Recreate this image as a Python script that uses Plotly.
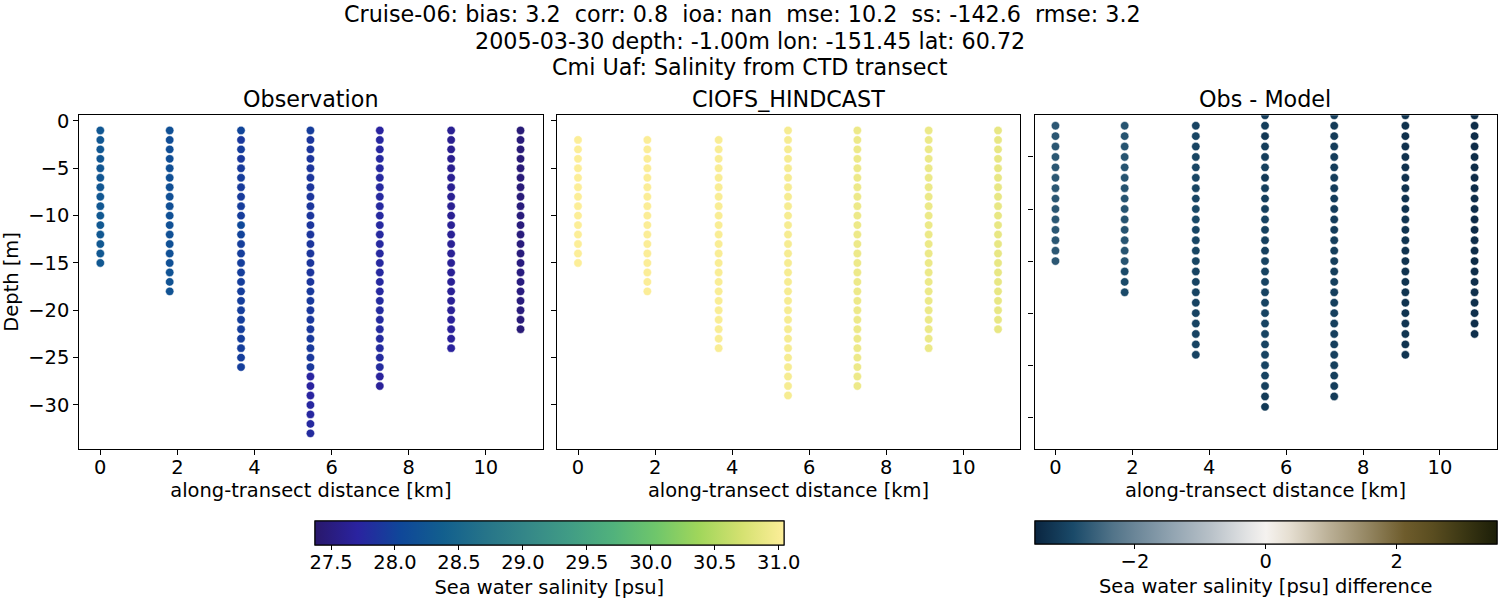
import plotly.graph_objects as go

# ---- data ----
distance_km = [0.0, 1.80, 3.65, 5.45, 7.25, 9.10, 10.90]
depth_levels = [-1, -2, -3, -4, -5, -6, -7, -8, -9, -10, -11, -12, -13, -14, -15, -16, -17,
                -18, -19, -20, -21, -22, -23, -24, -25, -26, -27, -28, -29, -30, -31, -32, -33]

obs_1 = [28.26, 28.26, 28.26, 28.25, 28.25, 28.25, 28.26, 28.26, 28.26, 28.27, 28.27, 28.27, 28.28, 28.28, 28.28]
obs_2 = [28.16, 28.13, 28.14, 28.14, 28.15, 28.15, 28.15, 28.15, 28.15, 28.16, 28.16, 28.16, 28.16, 28.17, 28.17, 28.20, 28.21, 28.21]
obs_3 = [28.02, 27.90, 27.95, 27.90, 27.93, 27.95, 27.93, 27.93, 27.95, 27.95, 28.05, 28.00, 27.96, 27.96, 27.96, 27.96, 27.96, 27.96,
         27.96, 27.96, 27.96, 27.96, 27.96, 27.96, 27.96, 27.96]
obs_4 = [27.95, 27.88, 27.88, 27.88, 27.88, 27.88, 27.88, 27.88, 27.88, 27.88, 27.88, 27.88, 27.88, 27.88, 27.88, 27.88, 27.88, 27.92,
         27.92, 27.90, 27.90, 27.90, 27.92, 27.92, 27.90, 27.90, 27.72, 27.70, 27.72, 27.74, 27.74, 27.76, 27.78]
obs_5 = [27.70, 27.74, 27.74, 27.76, 27.76, 27.76, 27.76, 27.76, 27.76, 27.76, 27.76, 27.76, 27.76, 27.76, 27.76, 27.76, 27.76, 27.76,
         27.78, 27.78, 27.78, 27.78, 27.78, 27.78, 27.78, 27.78, 27.68, 27.66]
obs_6 = [27.62, 27.60, 27.60, 27.60, 27.60, 27.62, 27.62, 27.62, 27.62, 27.62, 27.64, 27.64, 27.64, 27.64, 27.64, 27.64, 27.64, 27.64,
         27.64, 27.64, 27.66, 27.66, 27.66, 27.68]
obs_7 = [27.45, 27.47, 27.45, 27.45, 27.46, 27.46, 27.46, 27.46, 27.48, 27.48, 27.48, 27.48, 27.48, 27.48, 27.50, 27.50, 27.50, 27.50,
         27.48, 27.48, 27.46, 27.45]

model_1 = [31.03, 31.03, 31.03, 31.03, 31.03, 31.03, 31.03, 31.03, 31.03, 31.03, 31.03, 31.03, 31.03, 31.03]
model_2 = [31.02, 31.02, 31.02, 31.02, 31.02, 31.02, 31.02, 31.02, 31.02, 31.02, 31.02, 31.02, 31.02, 31.02, 31.02, 31.02, 31.02]
model_3 = [31.01, 31.01, 31.01, 31.01, 31.01, 31.01, 31.01, 31.01, 31.01, 31.01, 31.01, 31.01, 31.01, 31.01, 31.01, 31.01, 31.01, 31.01,
           31.01, 31.01, 31.01, 31.01, 31.01]
model_4 = [30.98, 30.98, 30.98, 30.98, 30.98, 30.98, 30.98, 30.98, 30.98, 30.98, 30.98, 30.98, 30.98, 30.98, 30.98, 30.98, 30.98, 30.98,
           30.98, 30.98, 30.98, 30.98, 30.98, 30.98, 30.98, 30.98, 30.98, 30.98, 30.98]
model_5 = [30.91, 30.91, 30.91, 30.91, 30.91, 30.91, 30.91, 30.91, 30.91, 30.91, 30.91, 30.91, 30.91, 30.91, 30.91, 30.91, 30.91, 30.91,
           30.91, 30.91, 30.91, 30.91, 30.91, 30.91, 30.91, 30.91, 30.91, 30.91]
model_6 = [30.90, 30.90, 30.90, 30.90, 30.90, 30.90, 30.90, 30.90, 30.90, 30.90, 30.90, 30.90, 30.90, 30.90, 30.90, 30.90, 30.90, 30.90,
           30.90, 30.90, 30.90, 30.90, 30.90, 30.90]
model_7 = [30.87, 30.87, 30.87, 30.87, 30.87, 30.87, 30.87, 30.87, 30.87, 30.87, 30.87, 30.87, 30.87, 30.87, 30.87, 30.87, 30.87, 30.87,
           30.87, 30.87, 30.87, 30.87]

diff_1 = [-2.75, -2.76, -2.77, -2.76, -2.76, -2.76, -2.76, -2.76, -2.75, -2.76, -2.76, -2.77, -2.75, -2.75]
diff_2 = [-2.80, -2.80, -2.81, -2.80, -2.81, -2.81, -2.81, -2.80, -2.80, -2.81, -2.81, -2.80, -2.80, -2.80, -2.95, -2.95, -2.95]
diff_3 = [-3.05, -3.02, -3.05, -3.04, -3.02, -3.02, -3.03, -3.02, -2.98, -2.98, -3.02, -3.02, -3.03, -3.03, -3.05, -3.05, -3.05, -3.05,
          -3.05, -3.05, -3.05, -3.05, -3.05]
diff_4 = [-3.15, -3.15, -3.25, -3.15, -3.15, -3.10, -3.22, -3.12, -3.12, -3.12, -3.05, -3.08, -3.10, -3.10, -3.06, -3.06, -3.05, -3.05,
          -3.05, -3.05, -3.05, -3.05, -3.05, -3.05, -3.05, -3.05, -3.10, -3.20, -3.22]
diff_5 = [-3.15, -3.18, -3.18, -3.16, -3.16, -3.16, -3.16, -3.16, -3.16, -3.16, -3.16, -3.16, -3.14, -3.14, -3.14, -3.14, -3.12, -3.12,
          -3.12, -3.12, -3.12, -3.12, -3.12, -3.10, -3.12, -3.12, -3.15, -3.18]
diff_6 = [-3.30, -3.34, -3.36, -3.35, -3.36, -3.35, -3.35, -3.33, -3.33, -3.33, -3.30, -3.30, -3.30, -3.31, -3.31, -3.31, -3.30, -3.30,
          -3.31, -3.30, -3.28, -3.28, -3.30, -3.28]
diff_7 = [-3.38, -3.40, -3.42, -3.43, -3.42, -3.42, -3.43, -3.42, -3.40, -3.40, -3.45, -3.43, -3.40, -3.42, -3.44, -3.38, -3.36, -3.36,
          -3.36, -3.36, -3.38, -3.36]

obs_columns = [obs_1, obs_2, obs_3, obs_4, obs_5, obs_6, obs_7]
model_columns = [model_1, model_2, model_3, model_4, model_5, model_6, model_7]
diff_columns = [diff_1, diff_2, diff_3, diff_4, diff_5, diff_6, diff_7]
model_first_level = [1, 1, 1, 0, 0, 0, 0]
diff_first_level = [1, 1, 1, 0, 0, 0, 0]
obs_first_level = [0, 0, 0, 0, 0, 0, 0]

title_lines = ["Cruise-06: bias: 3.2  corr: 0.8  ioa: nan  mse: 10.2  ss: -142.6  rmse: 3.2",
               "2005-03-30 depth: -1.00m lon: -151.45 lat: 60.72",
               "Cmi Uaf: Salinity from CTD transect"]
panel_titles = ["Observation", "CIOFS_HINDCAST", "Obs - Model"]
x_ticks = [0, 2, 4, 6, 8, 10]
y_ticks_left = [0, -5, -10, -15, -20, -25, -30]
y_ticks_right = [-5, -10, -15, -20, -25, -30]
haline_ticks = [27.5, 28.0, 28.5, 29.0, 29.5, 30.0, 30.5, 31.0]
haline_labels = ["27.5", "28.0", "28.5", "29.0", "29.5", "30.0", "30.5", "31.0"]
diff_ticks = [-2, 0, 2]
diff_scale = [[0.0, "#0a2540"], [0.083, "#1a4a69"], [0.169, "#527489"], [0.217, "#6b8698"], [0.30, "#93a5b2"],
              [0.38, "#b8c1c8"], [0.46, "#e2e3e4"], [0.50, "#f5f2ef"], [0.55, "#e6dfd2"], [0.64, "#b9ae94"],
              [0.72, "#948662"], [0.80, "#6e5c2c"], [0.86, "#5a4d20"], [0.93, "#3a3613"], [1.0, "#1c1e08"]]

# ---- layout helpers ----
W, H = 1500, 600
FONT = "DejaVu Sans"
FS = 19.44
FST = 22.25
fx = lambda p: p / W
fy = lambda p: 1 - p / H


def flatten(columns, first):
    xs, ys, cs = [], [], []
    for d, start, col in zip(distance_km, first, columns):
        for i, v in enumerate(col):
            xs.append(d)
            ys.append(depth_levels[start + i])
            cs.append(v)
    return xs, ys, cs


def colorbar(left, right, top, bottom, title, tickvals, ticktext=None, labelled=True):
    cb = dict(orientation="h", x=fx(left), xanchor="left", y=fy(top), yanchor="top",
              lenmode="pixels", len=right - left, thicknessmode="pixels", thickness=bottom - top,
              xpad=0, ypad=0, outlinecolor="black", outlinewidth=1.1,
              ticks="outside", tickwidth=1.1, tickcolor="black", tickvals=tickvals)
    if labelled:
        # labels sit as close to the bar as in the reference; the long tick marks come from the twin bar
        cb.update(ticklen=1, tickfont=dict(family=FONT, size=FS, color="black"),
                  title=dict(text=title, side="bottom", font=dict(family=FONT, size=FS, color="black")))
        if ticktext:
            cb["ticktext"] = ticktext
    else:
        cb.update(ticklen=5, showticklabels=False)
    return cb


HALINE_BAR = (314.8, 784.3, 521.3, 545)
DIFF_BAR = (1034.8, 1496.7, 521.3, 544.5)
HALINE_TITLE = "Sea water salinity [psu]"
DIFF_TITLE = "Sea water salinity [psu] difference"

fig = go.Figure()
MARK = dict(size=8.4, line=dict(color="white", width=0.5))
HAL = dict(colorscale="haline", cmin=27.373, cmax=31.04)
DIF = dict(colorscale=diff_scale, cmin=-3.53, cmax=3.53)

xs, ys, cs = flatten(obs_columns, obs_first_level)
fig.add_trace(go.Scatter(x=xs, y=ys, mode="markers", xaxis="x", yaxis="y", showlegend=False,
                         marker=dict(color=cs, colorbar=colorbar(*HALINE_BAR, HALINE_TITLE, haline_ticks, haline_labels),
                                     **HAL, **MARK)))
xs, ys, cs = flatten(model_columns, model_first_level)
fig.add_trace(go.Scatter(x=xs, y=ys, mode="markers", xaxis="x2", yaxis="y2", showlegend=False,
                         marker=dict(color=cs, colorbar=colorbar(*HALINE_BAR, "", haline_ticks, labelled=False),
                                     **HAL, **MARK)))
xs, ys, cs = flatten(diff_columns, diff_first_level)
fig.add_trace(go.Scatter(x=xs, y=ys, mode="markers", xaxis="x3", yaxis="y3", showlegend=False,
                         marker=dict(color=cs, colorbar=colorbar(*DIFF_BAR, DIFF_TITLE, diff_ticks),
                                     **DIF, **MARK)))
fig.add_trace(go.Scatter(x=[None], y=[None], mode="markers", xaxis="x3", yaxis="y3", showlegend=False, hoverinfo="skip",
                         marker=dict(color=[0], colorbar=colorbar(*DIFF_BAR, "", diff_ticks, labelled=False), **DIF)))

AX = dict(showgrid=False, zeroline=False, showline=True, mirror=True, linecolor="black", linewidth=1.1,
          ticks="outside", ticklen=5, tickwidth=1.1, tickcolor="black",
          tickfont=dict(family=FONT, size=FS, color="black"))
XT = dict(text="along-transect distance [km]", font=dict(family=FONT, size=FS, color="black"), standoff=4)
X_RANGE = [-0.545, 11.47]
PANELS = [(79.3, 542.5), (557, 1020), (1034.5, 1496.5)]
top, bottom = 115.3, 448.5
ydom = [fy(bottom), fy(top)]

fig.update_layout(
    width=W, height=H, margin=dict(l=0, r=0, t=0, b=0, autoexpand=False),
    paper_bgcolor="white", plot_bgcolor="white",
    xaxis=dict(domain=[fx(PANELS[0][0]), fx(PANELS[0][1])], range=X_RANGE, tickvals=x_ticks, anchor="y", title=XT, ticklabelstandoff=-4, **AX),
    yaxis=dict(domain=ydom, range=[-34.6, 0.6], tickvals=y_ticks_left, anchor="x",
               title=dict(text="Depth [m]", font=dict(family=FONT, size=FS, color="black"), standoff=6), **AX),
    xaxis2=dict(domain=[fx(PANELS[1][0]), fx(PANELS[1][1])], range=X_RANGE, tickvals=x_ticks, anchor="y2", title=XT, ticklabelstandoff=-4, **AX),
    yaxis2=dict(domain=ydom, range=[-34.6, 0.6], tickvals=y_ticks_left, ticktext=[""] * 7, anchor="x2", **AX),
    xaxis3=dict(domain=[fx(PANELS[2][0]), fx(PANELS[2][1])], range=X_RANGE, tickvals=x_ticks, anchor="y3", title=XT, ticklabelstandoff=-4, **AX),
    yaxis3=dict(domain=ydom, range=[-33, -1], tickvals=y_ticks_right, ticktext=[""] * 6, anchor="x3", **AX),
)

annotations = []
for text, cx, cy in zip(title_lines, [742.5, 749.5, 750], [14, 41, 67]):
    annotations.append(dict(text=text, x=fx(cx), y=fy(cy), xref="paper", yref="paper", xanchor="center",
                            yanchor="middle", showarrow=False, font=dict(family=FONT, size=FST, color="black")))
for text, cx in zip(panel_titles, [310.5, 788, 1265]):
    annotations.append(dict(text=text, x=fx(cx), y=fy(99), xref="paper", yref="paper", xanchor="center",
                            yanchor="middle", showarrow=False, font=dict(family=FONT, size=FST, color="black")))
fig.update_layout(annotations=annotations)

fig.write_html("out.html", config={"displayModeBar": False}, post_script="document.body.style.margin='0';")
